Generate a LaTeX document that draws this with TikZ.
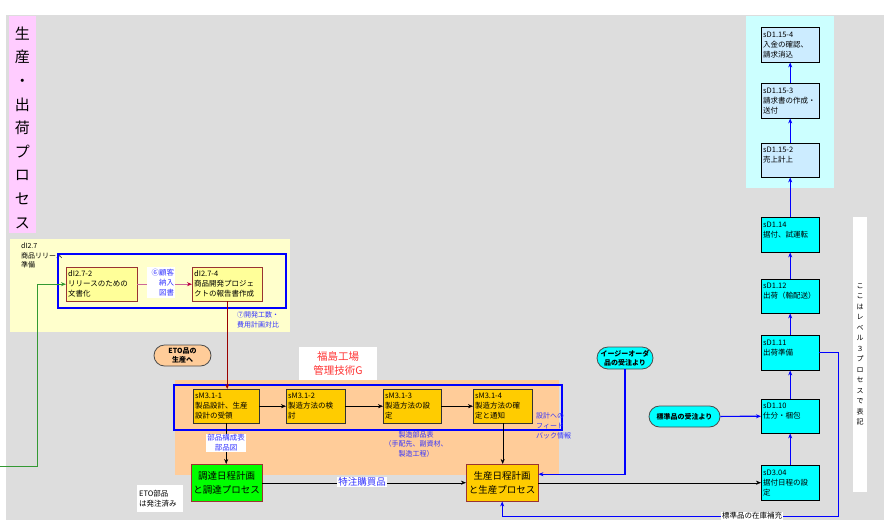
\documentclass[tikz,border=0pt]{standalone}
\usepackage{fontspec}
\setmainfont{Noto Sans CJK JP}
\usetikzlibrary{arrows.meta,shapes.misc}

\definecolor{bggray}{RGB}{221,221,221}
\definecolor{titlepink}{RGB}{255,204,255}
\definecolor{paleyellow}{RGB}{255,255,204}
\definecolor{boxyellow}{RGB}{255,255,153}
\definecolor{peach}{RGB}{255,204,153}
\definecolor{gold}{RGB}{255,204,0}
\definecolor{brightgreen}{RGB}{0,255,0}
\definecolor{brightcyan}{RGB}{0,255,255}
\definecolor{lightcyan}{RGB}{204,255,255}
\definecolor{paleblue}{RGB}{204,236,255}
\definecolor{darkred}{RGB}{153,0,0}
\definecolor{boxred}{RGB}{153,51,51}
\definecolor{labelblue}{RGB}{51,51,255}
\definecolor{labelred}{RGB}{255,51,51}
\definecolor{linkpink}{RGB}{204,102,153}
\definecolor{linkgreen}{RGB}{51,153,51}

\tikzset{
  proc/.style={draw, anchor=north west, inner sep=2pt, align=left,
    font=\fontsize{7.5}{10}\selectfont},
  sz/.code 2 args={\pgfmathsetmacro\boxtw{#1-4}%
    \pgfkeysalso{minimum width=#1pt, minimum height=#2pt, text width=\boxtw pt}},
  oval/.style={rounded rectangle, draw=black!70, thick, inner sep=1pt,
    align=center, font=\fontsize{7}{9}\selectfont\bfseries},
  note/.style={fill=white, text=labelblue, inner sep=1pt,
    font=\fontsize{7.5}{10}\selectfont},
  bline/.style={blue, line width=1.2pt},
}

\begin{document}
\begin{tikzpicture}[x=1pt,y=-1pt,>={Stealth[length=5pt,width=4pt]}]
\useasboundingbox (0,0) rectangle (884,520);
\fill[bggray] (6,15) rectangle (884,520);

% title bar
\fill[titlepink] (9,16) rectangle (36,233);
\node[font=\fontsize{15}{23.6}\selectfont, align=center, inner sep=0pt] (title) at (22.5,127.5)
  {生\\産\\・\\出\\荷\\プ\\ロ\\セ\\ス};

% dI2.7
\fill[paleyellow] (10,239) rectangle (290,332);
\node[anchor=north west, align=left, inner sep=0pt, font=\fontsize{7}{9.5}\selectfont] (di27) at (21,243)
  {dI2.7\\商品リリース\\準備};
\draw[blue, line width=2.5pt] (58,254) rectangle (286,308);
\node[proc, fill=boxyellow, draw=boxred, sz={71}{34}] (di272) at (66,267) {dI2.7-2\\リリースのための\\文書化};
\node[proc, fill=boxyellow, draw=boxred, sz={70}{34}] (di274) at (192,267) {dI2.7-4\\商品開発プロジェ\\クトの報告書作成};
\draw[linkpink, thick, -{Stealth[length=5pt,width=4pt,color=purple]}] (di272) -- (di274);
\node[note, align=right, minimum width=28pt, minimum height=31pt, text width=26pt] (n6) at (161,282.5)
  {⑥顧客\\納入\\図書};
\node[anchor=north west, text=labelblue, align=left, inner sep=0pt, font=\fontsize{7}{10}\selectfont] (n7) at (237,311)
  {⑦開発工数・\\費用計画対比};

\node[oval, fill=peach, minimum width=59pt, minimum height=21pt] (eto) at (182.5,355.5) {ETO品の\\生産へ};
\node[fill=white, text=labelred, align=center, minimum width=78pt, minimum height=33pt,
  font=\fontsize{10.5}{14}\selectfont] (fuku) at (338,363.5) {福島工場\\管理技術G};

% sM3.1
\fill[peach] (175,380) rectangle (559,475);
\draw[blue, line width=2.5pt] (174,385) rectangle (562,430);
\node[proc, fill=gold, draw=black!80, sz={66}{34}] (s1) at (193,389) {sM3.1-1\\製品設計、生産\\設計の受領};
\node[proc, fill=gold, draw=black!80, sz={59}{34}] (s2) at (286,389) {sM3.1-2\\製造方法の検\\討};
\node[proc, fill=gold, draw=black!80, sz={58}{34}] (s3) at (383,389) {sM3.1-3\\製造方法の設\\定};
\node[proc, fill=gold, draw=black!80, sz={59}{34}] (s4) at (473,389) {sM3.1-4\\製造方法の確\\定と通知};
\foreach \a/\b in {s1/s2,s2/s3,s3/s4}
  \draw[->] (\a) -- (\b);
\node[anchor=north west, text=labelblue, align=left, inner sep=0pt, font=\fontsize{7}{10}\selectfont] (fb) at (536,412)
  {設計への\\フィード\\バック情報};
\node[text=labelblue, align=center, inner sep=0pt, font=\fontsize{7}{9.5}\selectfont] (mbom) at (416,444)
  {製造部品表\\（手配先、副資材、\\製造工程）};

\node[proc, align=center, fill=brightgreen, draw=boxred, sz={71}{37}, inner sep=1pt,
  font=\fontsize{9.5}{14}\selectfont] (tyo) at (191,464) {調達日程計画\\と調達プロセス};
\node[proc, align=center, fill=gold, draw=boxred, sz={72}{37}, inner sep=1pt,
  font=\fontsize{9.5}{14}\selectfont] (sei) at (466,464) {生産日程計画\\と生産プロセス};
\node[anchor=north west, fill=white, align=left, minimum width=46pt, minimum height=27pt, text width=42pt,
  inner sep=2pt, font=\fontsize{7.5}{10}\selectfont] (etobu) at (137,485) {ETO部品\\は発注済み};

\draw[darkred, thick, ->] (di274.south) -- (di274.south |- s1.north);
\coordinate (gin) at (0,466);
\draw[linkgreen, thick, ->] (gin) -- ++(37,0) |- (di272.west);
\draw[->] (s1.south) -- (s1.south |- tyo.north);
\node[note, align=center] (bom) at (226,443) {部品構成表\\部品図};
\draw[->] (s4.south) -- (s4.south |- sei.north);
\draw[->] (tyo) -- (sei);
\node[note, font=\fontsize{9.5}{12}\selectfont] (tok) at (362,482) {特注購買品};

% sD
\fill[lightcyan] (746,16) rectangle (834,188);
\node[proc, fill=brightcyan, sz={58}{35}] (d304) at (761,465) {sD3.04\\据付日程の設\\定};
\node[proc, fill=brightcyan, sz={58}{34}] (d110) at (761,399) {sD1.10\\仕分・梱包\\~};
\node[proc, fill=brightcyan, sz={58}{35}] (d111) at (761,335) {sD1.11\\出荷準備\\~};
\node[proc, fill=brightcyan, sz={58}{34}] (d112) at (761,279) {sD1.12\\出荷（輸配送）\\~};
\node[proc, fill=brightcyan, sz={58}{35}] (d114) at (761,217) {sD1.14\\据付、試運転\\~};
\node[proc, fill=paleblue, sz={58}{34}] (d152) at (761,143) {sD1.15-2\\売上計上\\~};
\node[proc, fill=paleblue, sz={58}{35}] (d153) at (761,83) {sD1.15-3\\請求書の作成・\\送付};
\node[proc, fill=paleblue, sz={58}{35}] (d154) at (761,27) {sD1.15-4\\入金の確認、\\請求消込};
\foreach \a/\b in {d304/d110,d110/d111,d111/d112,d112/d114,d114/d152,d152/d153,d153/d154}
  \draw[bline, ->] (\a) -- (\b);

\node[oval, fill=brightcyan, minimum width=58pt, minimum height=22pt] (easy) at (625,358) {イージーオーダ\\品の受注より};
\node[oval, fill=brightcyan, minimum width=73pt, minimum height=21pt] (std) at (684.5,416.5) {標準品の受注より};
\draw[bline, ->] (easy.south) |- ([yshift=8.5pt]sei.east);
\draw[bline, ->] (std) -- (d110);
\draw[->] (sei) -- (d304);
\draw[bline, ->] (d111.east) -- ++(19,0) -- ++(0,163.5) -| (sei.south);
\node[fill=white, inner sep=1pt, font=\fontsize{7.5}{10}\selectfont] (zaiko) at (752,516) {標準品の在庫補充};

\node[fill=white, minimum width=14pt, minimum height=275pt, align=center, inner sep=0pt,
  font=\fontsize{7}{10.5}\selectfont] (lvl) at (860,354.5)
  {こ\\こ\\は\\レ\\ベ\\ル\\３\\プ\\ロ\\セ\\ス\\で\\表\\記};
\end{tikzpicture}
\end{document}
